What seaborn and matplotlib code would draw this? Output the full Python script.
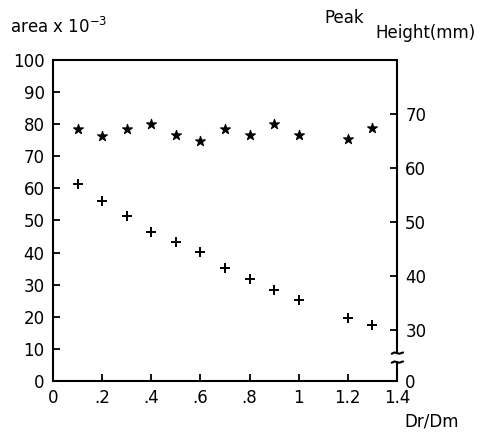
import matplotlib
matplotlib.use('Agg')
import matplotlib.pyplot as plt
import seaborn as sns

# values
dr_dm = [0.1, 0.2, 0.3, 0.4, 0.5, 0.6, 0.7, 0.8, 0.9, 1.0, 1.2, 1.3]
area = [78.5, 76.4, 78.4, 80.0, 76.5, 74.9, 78.6, 76.6, 80.0, 76.5, 75.3, 78.7]
peak_height = [56.9, 53.9, 51.1, 48.2, 46.3, 44.4, 41.5, 39.5, 37.5, 35.6, 32.3, 31.0]

x_ticks = [0, 0.2, 0.4, 0.6, 0.8, 1.0, 1.2, 1.4]
x_labels = ['0', '.2', '.4', '.6', '.8', '1', '1.2', '1.4']
left_ticks = list(range(0, 101, 10))
right_ticks = [30, 40, 50, 60, 70]

sns.set_style('ticks')
plt.rcParams['font.family'] = ['DejaVu Sans']
plt.rcParams['text.color'] = 'black'
plt.rcParams['xtick.color'] = 'black'
plt.rcParams['ytick.color'] = 'black'

fig = plt.figure(figsize=(4.84, 4.34), dpi=100)
ax = fig.add_axes([0.1095, 0.122, 0.7105, 0.740])
ax2 = ax.twinx()

sns.scatterplot(x=dr_dm, y=area, marker='*', s=55, color='black',
                edgecolor='black', linewidth=0.8, ax=ax)
sns.scatterplot(x=dr_dm, y=peak_height, marker='+', s=45, color='black',
                linewidth=1.4, ax=ax2)

ax.set_xlim(0, 1.4)
ax.set_ylim(0, 100)
ax.set_xticks(x_ticks)
ax.set_xticklabels(x_labels)
ax.set_yticks(left_ticks)

# right scale: 30..70 occupies the upper part, with a broken axis down to 0
r_lo, r_hi = 20.6, 79.9
ax2.set_ylim(r_lo, r_hi)
ax2.set_yticks([r_lo] + right_ticks)
ax2.set_yticklabels(['0'] + [str(t) for t in right_ticks])
ax2.yaxis.get_major_ticks()[0].tick2line.set_visible(False)

for a in (ax, ax2):
    a.tick_params(direction='in', length=5, width=1.3, labelsize=12, pad=6,
                  colors='black')
    for s in a.spines.values():
        s.set_linewidth(1.5)
        s.set_color('black')
ax.spines['right'].set_visible(False)
for side in ('right', 'left', 'top', 'bottom'):
    ax2.spines[side].set_visible(False)

# broken right spine
tr = ax.transAxes
kw = dict(transform=tr, color='black', lw=1.5, clip_on=False)
b_top, b_bot = 0.087, 0.059
ax.plot([1, 1], [1, b_top], **kw)
ax.plot([1, 1], [b_bot, 0], **kw)
ax.plot([0.985, 0.993, 1.007, 1.018], [b_top - 0.002, b_top + 0.002, b_top - 0.002, b_top + 0.002], **kw)
ax.plot([0.985, 0.993, 1.007, 1.018], [b_bot - 0.002, b_bot + 0.002, b_bot - 0.002, b_bot + 0.002], **kw)

ax.set_xlabel('')
ax.set_ylabel('')
ax2.set_ylabel('')

fig.text(0.02, 0.925, 'area x 10$^{-3}$', fontsize=12, ha='left', va='baseline')
fig.text(0.67, 0.948, 'Peak', fontsize=12, ha='left', va='baseline')
fig.text(0.775, 0.912, 'Height(mm)', fontsize=12, ha='left', va='baseline')
fig.text(0.835, 0.018, 'Dr/Dm', fontsize=12, ha='left', va='baseline')

fig.savefig('out.png', dpi=100)
